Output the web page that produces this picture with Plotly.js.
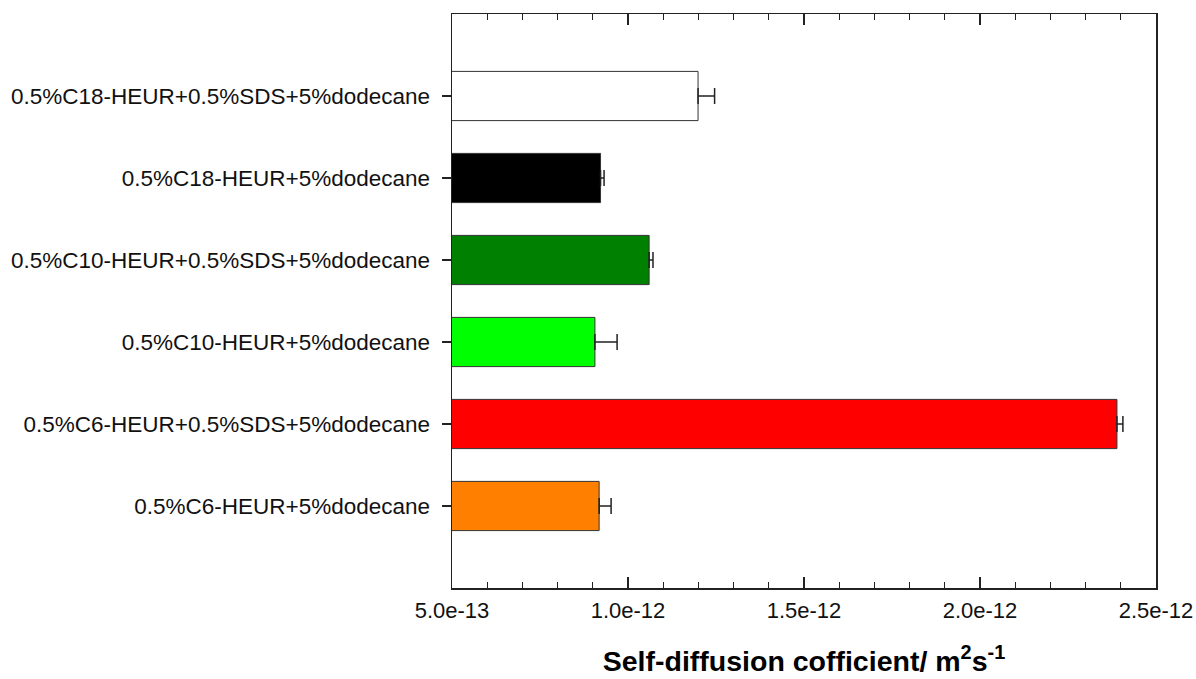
<!DOCTYPE html>
<html>
<head>
<meta charset="utf-8">
<script src="https://cdn.plot.ly/plotly-3.0.1.min.js"></script>
<style>
  html, body { margin: 0; padding: 0; background: #fff; }
  #chart { width: 1196px; height: 679px; }
</style>
</head>
<body>
<div id="chart"></div>
<script>
// Samples, listed bottom to top as drawn on the category axis
const samples = [
  '0.5%C6-HEUR+5%dodecane',
  '0.5%C6-HEUR+0.5%SDS+5%dodecane',
  '0.5%C10-HEUR+5%dodecane',
  '0.5%C10-HEUR+0.5%SDS+5%dodecane',
  '0.5%C18-HEUR+5%dodecane',
  '0.5%C18-HEUR+0.5%SDS+5%dodecane'
];

// Self-diffusion coefficient (m^2/s) and its standard deviation
const diffusion = [0.918e-12, 2.389e-12, 0.906e-12, 1.060e-12, 0.922e-12, 1.199e-12];
const diffusionErr = [0.034e-12, 0.017e-12, 0.063e-12, 0.011e-12, 0.010e-12, 0.047e-12];

const barColors = ['#ff8000', '#ff0000', '#00ff00', '#008000', '#000000', '#ffffff'];

const xTickVals = [5e-13, 1e-12, 1.5e-12, 2e-12, 2.5e-12];
const xTickText = ['5.0e-13', '1.0e-12', '1.5e-12', '2.0e-12', '2.5e-12'];

const axisColor = '#222222';
const xRange = [5e-13, 2.5e-12];

const bars = {
  type: 'bar',
  orientation: 'h',
  y: samples,
  x: diffusion,
  width: 0.6,
  marker: {
    color: barColors,
    line: { color: '#333333', width: 1 }
  },
  error_x: {
    type: 'data',
    symmetric: false,
    array: diffusionErr,
    arrayminus: diffusionErr.map(() => 0),
    color: axisColor,
    thickness: 1.5,
    width: 8
  },
  hoverinfo: 'x+y'
};

// Invisible companion trace so the top tick axis is laid out
const topAxisHolder = {
  type: 'scatter',
  mode: 'markers',
  x: diffusion,
  y: samples,
  xaxis: 'x2',
  marker: { opacity: 0 },
  hoverinfo: 'skip'
};

const tickStyle = {
  ticks: 'inside',
  ticklen: 11,
  tickwidth: 1.2,
  tickcolor: axisColor,
  minor: { dtick: 1e-13, tick0: 0, ticks: 'inside', ticklen: 6, tickwidth: 1, tickcolor: axisColor, showgrid: false }
};

const layout = {
  width: 1196,
  height: 679,
  margin: { l: 452, r: 40, t: 14, b: 91 },
  paper_bgcolor: '#ffffff',
  plot_bgcolor: '#ffffff',
  showlegend: false,
  font: { family: 'Liberation Sans, Arial, sans-serif', color: '#000000' },
  xaxis: Object.assign({
    range: xRange,
    tickmode: 'array',
    tickvals: xTickVals,
    ticktext: xTickText,
    showline: true,
    linecolor: axisColor,
    linewidth: 1.5,
    mirror: true,
    showgrid: false,
    zeroline: false,
    tickfont: { size: 22, color: '#111111' },
    ticklabelstandoff: 2,
    title: {
      text: '<b>Self-diffusion cofficient/ m<sup>2</sup>s<sup>-1</sup></b>',
      font: { size: 28.5, color: '#000000' },
      standoff: 29
    }
  }, tickStyle),
  xaxis2: Object.assign({
    overlaying: 'x',
    side: 'top',
    anchor: 'y',
    range: xRange,
    tickmode: 'array',
    tickvals: xTickVals,
    showticklabels: false,
    showline: false,
    showgrid: false,
    zeroline: false
  }, tickStyle),
  yaxis: {
    type: 'category',
    range: [-1, 6],
    ticks: 'outside',
    ticklen: 9,
    tickwidth: 1.2,
    tickcolor: axisColor,
    showline: true,
    linecolor: axisColor,
    linewidth: 1.5,
    mirror: true,
    showgrid: false,
    zeroline: false,
    tickfont: { size: 22.5, color: '#111111' },
    ticklabelstandoff: 7
  }
};

Plotly.newPlot('chart', [bars, topAxisHolder], layout, { displayModeBar: false, staticPlot: true });
</script>
</body>
</html>
